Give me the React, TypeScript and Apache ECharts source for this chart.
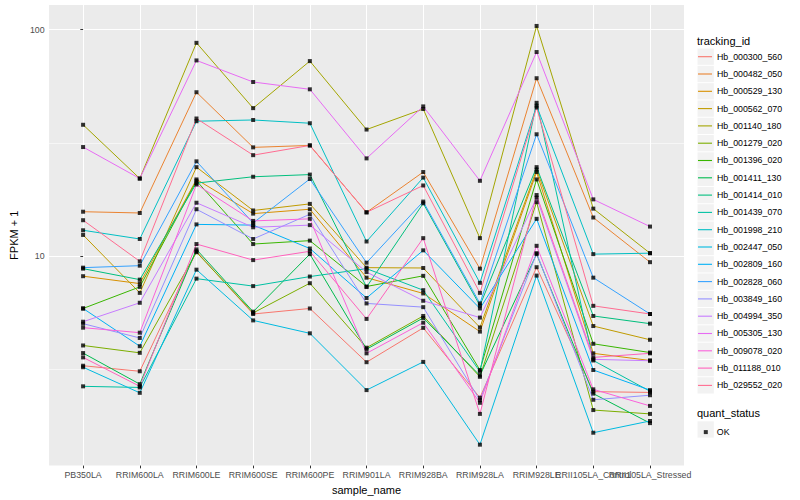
import React, { useEffect, useRef } from "react";
import * as echarts from "echarts";

// ---- data ----
const sampleNames = [
  "PB350LA", "RRIM600LA", "RRIM600LE", "RRIM600SE", "RRIM600PE", "RRIM901LA",
  "RRIM928BA", "RRIM928LA", "RRIM928LE", "RRII105LA_Control", "RRII105LA_Stressed",
];

const trackingIds = [
  "Hb_000300_560", "Hb_000482_050", "Hb_000529_130", "Hb_000562_070", "Hb_001140_180",
  "Hb_001279_020", "Hb_001396_020", "Hb_001411_130", "Hb_001414_010", "Hb_001439_070",
  "Hb_001998_210", "Hb_002447_050", "Hb_002809_160", "Hb_002828_060", "Hb_003849_160",
  "Hb_004994_350", "Hb_005305_130", "Hb_009078_020", "Hb_011188_010", "Hb_029552_020",
];

// FPKM + 1 per sample (same order as sampleNames)
const hb000300_560 = [3.28, 3.1, 10.5, 5.55, 5.87, 3.4, 4.82, 2.37, 8.93, 2.52, 2.5];
const hb000482_050 = [15.7, 15.5, 52.9, 30.2, 30.8, 15.6, 23.5, 8.8, 61.0, 14.8, 9.4];
const hb000529_130 = [8.15, 7.56, 21.8, 15.4, 16.1, 8.03, 6.84, 4.64, 23.5, 3.72, 3.46];
const hb000562_070 = [12.4, 6.88, 24.7, 15.9, 17.0, 8.89, 8.86, 4.84, 24.1, 4.91, 4.27];
const hb001140_180 = [38.0, 22.0, 87.4, 45.0, 72.6, 36.2, 44.6, 12.0, 103.8, 16.2, 10.3];
const hb001279_020 = [4.03, 3.74, 10.4, 5.61, 7.59, 3.94, 5.44, 2.93, 17.3, 2.09, 2.01];
const hb001396_020 = [5.87, 7.31, 21.5, 11.3, 11.7, 7.34, 8.18, 3.14, 21.8, 4.1, 3.75];
const hb001411_130 = [3.73, 2.72, 10.7, 5.68, 10.2, 3.88, 5.33, 2.97, 10.2, 2.47, 1.83];
const hb001414_010 = [8.8, 7.87, 21.0, 22.4, 22.9, 7.3, 17.1, 6.05, 24.7, 5.44, 5.03];
const hb001439_070 = [2.66, 2.63, 7.95, 7.37, 8.12, 8.8, 7.07, 3.09, 47.5, 3.46, 2.53];
const hb001998_210 = [13.0, 11.9, 39.4, 39.9, 38.6, 11.6, 22.2, 7.62, 46.1, 10.2, 10.3];
const hb002447_050 = [3.23, 2.49, 8.71, 5.2, 4.56, 2.56, 3.41, 1.47, 8.2, 1.66, 1.87];
const hb002809_160 = [5.87, 4.0, 13.8, 13.7, 10.8, 6.53, 10.6, 5.87, 14.6, 3.14, 2.56];
const hb002828_060 = [8.89, 9.07, 26.2, 14.0, 21.9, 9.35, 17.4, 6.18, 34.5, 8.03, 5.55];
const hb003849_160 = [5.03, 4.35, 16.1, 11.9, 15.3, 6.18, 5.95, 2.31, 10.3, 2.32, 2.43];
const hb004994_350 = [5.13, 6.22, 17.2, 13.4, 13.7, 8.5, 6.35, 5.35, 18.1, 3.5, 3.45];
const hb005305_130 = [30.3, 22.0, 73.1, 58.7, 54.5, 27.0, 45.8, 21.5, 79.6, 17.8, 13.5];
const hb009078_020 = [4.83, 4.59, 20.7, 14.3, 14.6, 3.72, 5.08, 2.25, 11.1, 2.58, 2.18];
const hb011188_010 = [3.57, 2.66, 11.3, 9.6, 10.5, 5.28, 12.0, 2.01, 18.6, 3.57, 3.72];
const hb029552_020 = [14.4, 9.48, 40.5, 27.9, 30.8, 15.6, 20.5, 6.88, 45.3, 6.03, 5.55];

const expression = [
  hb000300_560, hb000482_050, hb000529_130, hb000562_070, hb001140_180,
  hb001279_020, hb001396_020, hb001411_130, hb001414_010, hb001439_070,
  hb001998_210, hb002447_050, hb002809_160, hb002828_060, hb003849_160,
  hb004994_350, hb005305_130, hb009078_020, hb011188_010, hb029552_020,
];

const yBreaks = [10, 100];
const yMinorBreaks = [Math.sqrt(10), Math.sqrt(1000)];
const quantStatus = "OK";

// ggplot2 default hue palette for 20 levels
const hueColors = [
  "#F8766D", "#EA8331", "#D89000", "#C09B00", "#A3A500", "#7CAE00", "#39B600",
  "#00BB4E", "#00BF7D", "#00C1A3", "#00BFC4", "#00BAE0", "#00B0F6", "#35A2FF",
  "#9590FF", "#C77CFF", "#E76BF3", "#FA62DB", "#FF62BC", "#FF6C91",
];

export default function App() {
  const ref = useRef<HTMLDivElement>(null);

  useEffect(() => {
    if (!ref.current) return;
    const chart = echarts.init(ref.current, null, { renderer: "svg" });
    const font = "'Liberation Sans', Arial, Helvetica, sans-serif";

    const logs = expression.flat().map((v) => Math.log10(v));
    const lo = Math.min(...logs);
    const hi = Math.max(...logs);
    const pad = (hi - lo) * 0.05;
    const yMin = lo - pad;
    const yMax = hi + pad;
    const xMin = -0.6;
    const xMax = sampleNames.length - 1 + 0.6;
    const idx = sampleNames.map((_, i) => i);
    // labels split over two axes so that neighbouring long labels can both be drawn
    const idxEven = idx.filter((i) => i % 2 === 0);
    const idxOdd = idx.filter((i) => i % 2 === 1);

    const legendTop = 48.05;
    const keyH = 17.3;

    const lineSeries = trackingIds.map((id, k) => ({
      type: "line",
      name: id,
      data: expression[k].map((v, i) => [i, Math.log10(v)]),
      showSymbol: false,
      symbol: "none",
      silent: true,
      z: 2,
      lineStyle: { color: hueColors[k], width: 1 },
      itemStyle: { color: hueColors[k] },
      emphasis: { disabled: true },
    }));

    const pointSeries = {
      type: "scatter",
      name: quantStatus,
      data: expression.flatMap((row) => row.map((v, i) => [i, Math.log10(v)])),
      symbol: "rect",
      symbolSize: 4,
      silent: true,
      z: 3,
      itemStyle: { color: "#000000" },
      emphasis: { disabled: true },
    };

    const minorGridSeries = {
      type: "line",
      name: "__minor_grid",
      data: [],
      silent: true,
      z: 1,
      markLine: {
        silent: true,
        z: 1,
        symbol: "none",
        label: { show: false },
        emphasis: { disabled: true },
        lineStyle: { color: "#FFFFFF", width: 0.55, type: "solid" },
        data: yMinorBreaks.map((v) => ({ yAxis: Math.log10(v) })),
      },
    };

    const keyRects = [
      ...trackingIds.map((_, k) => ({
        type: "rect",
        z: 0,
        silent: true,
        shape: { x: 697.5, y: legendTop + keyH * k + 0.5, width: keyH - 1, height: keyH - 1 },
        style: { fill: "#F2F2F2" },
      })),
      {
        type: "rect",
        z: 0,
        silent: true,
        shape: { x: 697.5, y: 421.3, width: keyH - 1, height: keyH - 1 },
        style: { fill: "#F2F2F2" },
      },
    ];

    const xLabelStyle = {
      formatter: (v: number) => sampleNames[Math.round(v)] ?? "",
      color: "#4D4D4D",
      fontSize: 8.8,
      fontFamily: font,
      margin: 4.5,
      hideOverlap: false,
      showMinLabel: true,
      showMaxLabel: true,
    };

    chart.setOption({
      animation: false,
      backgroundColor: "#FFFFFF",
      textStyle: { fontFamily: font },
      grid: {
        left: 40,
        right: 116,
        top: 5,
        bottom: 32,
        show: true,
        backgroundColor: "#EBEBEB",
        borderWidth: 0,
        containLabel: false,
      },
      xAxis: [
        {
          type: "value",
          min: xMin,
          max: xMax,
          position: "bottom",
          axisLine: { show: false },
          axisTick: {
            show: true,
            length: 2.75,
            customValues: idx,
            lineStyle: { color: "#333333", width: 1 },
          },
          axisLabel: { ...xLabelStyle, customValues: idxEven },
          splitLine: { show: true, lineStyle: { color: "#FFFFFF", width: 1.07 } },
          name: "sample_name",
          nameLocation: "middle",
          nameGap: 15,
          nameTextStyle: { color: "#000000", fontSize: 11, fontFamily: font },
        },
        {
          type: "value",
          min: xMin,
          max: xMax,
          position: "bottom",
          offset: 0,
          axisLine: { show: false },
          axisTick: { show: false, customValues: idxOdd },
          axisLabel: { ...xLabelStyle, customValues: idxOdd },
          splitLine: { show: false },
        },
      ],
      yAxis: {
        type: "value",
        min: yMin,
        max: yMax,
        axisLine: { show: false },
        axisTick: {
          show: true,
          length: 2.75,
          customValues: yBreaks.map((b) => Math.log10(b)),
          lineStyle: { color: "#333333", width: 1 },
        },
        axisLabel: {
          customValues: yBreaks.map((b) => Math.log10(b)),
          formatter: (v: number) => {
            const b = yBreaks.find((x) => Math.abs(Math.log10(x) - v) < 1e-6);
            return b === undefined ? "" : String(b);
          },
          color: "#4D4D4D",
          fontSize: 8.8,
          fontFamily: font,
          margin: 4.5,
          showMinLabel: true,
          showMaxLabel: true,
        },
        splitLine: { show: true, lineStyle: { color: "#FFFFFF", width: 1.07 } },
        name: "FPKM + 1",
        nameLocation: "middle",
        nameGap: 24,
        nameRotate: 90,
        nameTextStyle: { color: "#000000", fontSize: 11, fontFamily: font },
      },
      legend: [
        {
          data: trackingIds.map((id, k) => ({
            name: id,
            itemStyle: { color: hueColors[k], borderWidth: 0 },
          })),
          orient: "vertical",
          left: 698,
          top: legendTop,
          padding: 0,
          itemWidth: 14,
          itemHeight: keyH,
          itemGap: 0,
          icon: "path://M0,0L14,0L14,1.1L0,1.1Z",
          selectedMode: false,
          textStyle: {
            fontSize: 8.8,
            color: "#000000",
            fontFamily: font,
            lineHeight: keyH,
            height: keyH,
          },
        },
        {
          data: [{ name: quantStatus, itemStyle: { color: "#000000", borderWidth: 0 } }],
          orient: "vertical",
          left: 703.8,
          top: 427.6,
          padding: 0,
          itemWidth: 4,
          itemHeight: 4,
          icon: "rect",
          selectedMode: false,
          textStyle: { fontSize: 8.8, color: "#000000", fontFamily: font, padding: [0, 0, 0, 4] },
        },
      ],
      graphic: [
        ...keyRects,
        {
          type: "text",
          z: 1,
          silent: true,
          style: {
            text: "tracking_id",
            x: 697,
            y: 41,
            verticalAlign: "middle",
            fill: "#000000",
            font: `11px ${font}`,
          },
        },
        {
          type: "text",
          z: 1,
          silent: true,
          style: {
            text: "quant_status",
            x: 697,
            y: 412.5,
            verticalAlign: "middle",
            fill: "#000000",
            font: `11px ${font}`,
          },
        },
      ],
      series: [minorGridSeries, ...lineSeries, pointSeries],
    });

    return () => {
      chart.dispose();
    };
  }, []);

  return (
    <div
      ref={ref}
      style={{ position: "fixed", left: 0, top: 0, width: 800, height: 500 }}
    />
  );
}
